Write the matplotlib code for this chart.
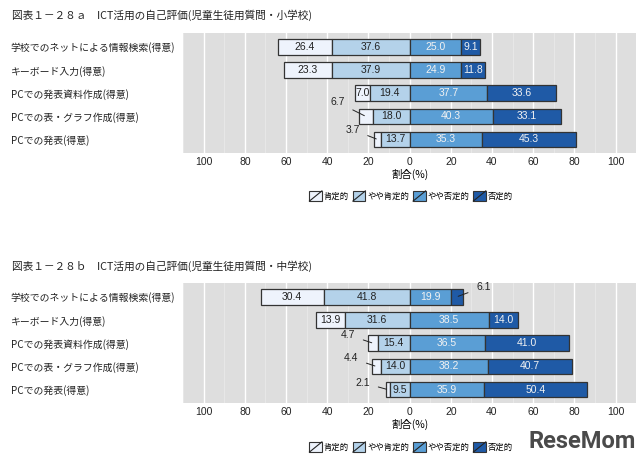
import numpy as np
import matplotlib
matplotlib.use("Agg")
import matplotlib.pyplot as plt
from matplotlib.patches import Patch, Rectangle
from matplotlib.lines import Line2D
from matplotlib.legend_handler import HandlerBase

plt.rcParams["font.family"] = ["Liberation Sans", "Noto Sans CJK JP"]

# DATA
CATEGORIES = [
    "学校でのネットによる情報検索(得意)",
    "キーボード入力(得意)",
    "PCでの発表資料作成(得意)",
    "PCでの表・グラフ作成(得意)",
    "PCでの発表(得意)",
]
LEVELS = ["肯定的", "やや肯定的", "やや否定的", "否定的"]

# elementary school (a)
POS_A      = [26.4, 23.3, 7.0, 6.7, 3.7]
SOME_POS_A = [37.6, 37.9, 19.4, 18.0, 13.7]
SOME_NEG_A = [25.0, 24.9, 37.7, 40.3, 35.3]
NEG_A      = [9.1, 11.8, 33.6, 33.1, 45.3]

# junior high school (b)
POS_B      = [30.4, 13.9, 4.7, 4.4, 2.1]
SOME_POS_B = [41.8, 31.6, 15.4, 14.0, 9.5]
SOME_NEG_B = [19.9, 38.5, 36.5, 38.2, 35.9]
NEG_B      = [6.1, 14.0, 41.0, 40.7, 50.4]

TITLE_A = "図表１－２８ａ　ICT活用の自己評価(児童生徒用質問・小学校)"
TITLE_B = "図表１－２８ｂ　ICT活用の自己評価(児童生徒用質問・中学校)"
XTICKS = [-100, -80, -60, -40, -20, 0, 20, 40, 60, 80, 100]

# STYLE
COLORS = ["#eef3fc", "#b4d2ea", "#5a9ed5", "#1f5aa6"]
TEXT_COLORS = ["#222222", "#222222", "#f2f2f2", "#f2f2f2"]
BG = "#dedede"
EDGE = "#333333"
# offsets (points) for small values that get a leader line: (panel, row, seg) -> (dx, dy)
CALLOUTS = {
    ("a", 3, 0): (-20, 10),
    ("a", 4, 0): (-18, 7),
    ("b", 0, 3): (19, 7),
    ("b", 2, 0): (-18, 6),
    ("b", 3, 0): (-18, 6),
    ("b", 4, 0): (-18, 5),
}


class DiagHandler(HandlerBase):
    def create_artists(self, legend, orig_handle, xdescent, ydescent,
                       width, height, fontsize, trans):
        r = Rectangle((-xdescent, -ydescent), width, height,
                      facecolor=orig_handle.get_facecolor(), edgecolor=EDGE,
                      lw=0.8, transform=trans)
        l = Line2D([-xdescent, -xdescent + width], [-ydescent, -ydescent + height],
                   color="#222222", lw=0.8, transform=trans)
        return [r, l]


def draw_panel(ax, name, pos, some_pos, some_neg, neg):
    y = np.arange(len(CATEGORIES))
    pos, some_pos, some_neg, neg = map(np.asarray, (pos, some_pos, some_neg, neg))
    lefts = [-(pos + some_pos), -some_pos, np.zeros_like(pos), some_neg]
    widths = [pos, some_pos, some_neg, neg]

    ax.set_facecolor(BG)
    ax.set_xlim(-110, 110)
    ax.set_ylim(4.58, -0.6)
    ax.set_xticks(XTICKS)
    ax.set_xticks(np.arange(-110, 111, 10), minor=True)
    ax.set_xticklabels([str(abs(t)) for t in XTICKS], fontsize=7.5, color="#222222")
    ax.grid(True, axis="x", which="major", color="white", lw=1.0)
    ax.grid(True, axis="x", which="minor", color="#ececec", lw=0.5)
    ax.set_axisbelow(True)
    ax.tick_params(axis="x", which="both", length=0, pad=3)
    ax.tick_params(axis="y", length=0, pad=124)
    ax.set_yticks(y)
    ax.set_yticklabels(CATEGORIES, fontsize=7.1, family=["Noto Sans CJK JP"], color="#222222")
    for lab in ax.get_yticklabels():
        lab.set_ha("left")
    for s in ax.spines.values():
        s.set_visible(False)
    ax.set_xlabel("割合(%)", fontsize=7.5, family=["Noto Sans CJK JP"], labelpad=1)

    for k in range(4):
        ax.barh(y, widths[k], left=lefts[k], height=0.67, color=COLORS[k],
                edgecolor=EDGE, lw=0.9, zorder=3)
        for i in range(len(y)):
            v = widths[k][i]
            cx = lefts[k][i] + v / 2
            key = (name, i, k)
            if key in CALLOUTS:
                ax.annotate(f"{v:.1f}", xy=(cx, y[i]), xytext=CALLOUTS[key],
                            textcoords="offset points", ha="center", va="center",
                            fontsize=7.5, color="#222222",
                            arrowprops=dict(arrowstyle="-", color="#222222", lw=0.7,
                                            shrinkA=4, shrinkB=1), zorder=5)
            else:
                ax.text(cx, y[i], f"{v:.1f}", ha="center", va="center",
                        fontsize=7.5, color=TEXT_COLORS[k], zorder=4)


fig = plt.figure(figsize=(6.4, 4.66), dpi=100)
ax_a = fig.add_axes([0.286, 0.672, 0.708, 0.257])
ax_b = fig.add_axes([0.286, 0.135, 0.708, 0.258])

draw_panel(ax_a, "a", POS_A, SOME_POS_A, SOME_NEG_A, NEG_A)
draw_panel(ax_b, "b", POS_B, SOME_POS_B, SOME_NEG_B, NEG_B)

fig.text(12 / 640, 1 - 15 / 466, TITLE_A, fontsize=7.7, va="center",
         family=["Noto Sans CJK JP"], color="#222222")
fig.text(12 / 640, 1 - 266 / 466, TITLE_B, fontsize=7.7, va="center",
         family=["Noto Sans CJK JP"], color="#222222")

handles = [Patch(facecolor=c) for c in COLORS]
for yc in (196, 447):
    fig.legend(handles, LEVELS, handler_map={Patch: DiagHandler()},
               loc="center", bbox_to_anchor=(411 / 640, 1 - yc / 466), ncol=4,
               frameon=False, prop={"family": ["Noto Sans CJK JP"], "size": 6},
               handlelength=1.5, handleheight=1.5, handletextpad=0.2,
               columnspacing=0.5, borderpad=0)

fig.text(582 / 640, 1 - 441 / 466, "ReseMom", fontsize=17, fontweight="bold",
         color="#4a4a4a", ha="center", va="center", family=["Roboto"])

fig.savefig("out.png", dpi=100)
